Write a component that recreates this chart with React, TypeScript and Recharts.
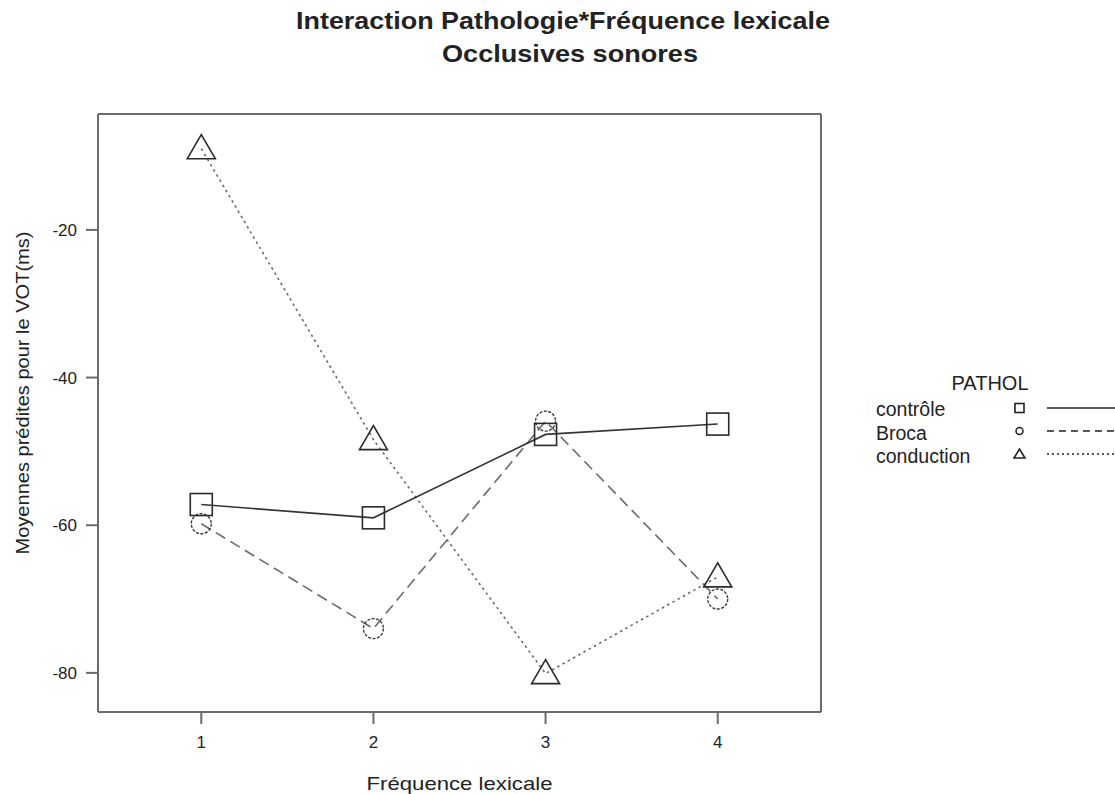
import React from 'react';
import { LineChart, Line, XAxis, YAxis } from 'recharts';

const frequences = [1, 2, 3, 4];
const controle = [-57.2, -59.0, -47.7, -46.3];
const broca = [-59.8, -74.0, -45.9, -70.0];
const conduction = [-9.0, -48.4, -80.1, -67.0];
const xTicks = [1, 2, 3, 4];
const yTicks = [-80, -60, -40, -20];
const titleLines = ['Interaction Pathologie*Fréquence lexicale', 'Occlusives sonores'];
const xTitle = 'Fréquence lexicale';
const yTitle = 'Moyennes prédites pour le VOT(ms)';
const legendTitle = 'PATHOL';
const seriesNames = ['contrôle', 'Broca', 'conduction'];

const data = frequences.map((f, i) => ({
  f,
  controle: controle[i],
  broca: broca[i],
  conduction: conduction[i],
}));

const FONT = '"Liberation Sans", Arial, Helvetica, sans-serif';
const FRAME = '#6b6b6b';
const TEXT = '#222';

const SquareDot = (p: any) => (
  <rect key={`sq${p.index}`} x={p.cx - 11} y={p.cy - 11} width={22} height={22}
    fill="none" stroke="#2a2a2a" strokeWidth={1.6} />
);
const CircleDot = (p: any) => (
  <circle key={`ci${p.index}`} cx={p.cx} cy={p.cy} r={10}
    fill="none" stroke="#3a3a3a" strokeWidth={1.4} strokeDasharray="3 1.5" />
);
const TriDot = (p: any) => (
  <polygon key={`tr${p.index}`}
    points={`${p.cx},${p.cy - 14} ${p.cx - 14},${p.cy + 10} ${p.cx + 14},${p.cy + 10}`}
    fill="none" stroke="#2a2a2a" strokeWidth={1.6} />
);

const YLabel = (props: any) => {
  const vb = props.viewBox || {};
  const x = (vb.x ?? 0) + 29;
  const y = 393;
  return (
    <text x={x} y={y} transform={`rotate(-90 ${x} ${y})`} textAnchor="middle"
      fontFamily={FONT} fontSize={19} fill={TEXT} textLength={323} lengthAdjust="spacingAndGlyphs">
      {yTitle}
    </text>
  );
};

const XLabel = (props: any) => {
  const vb = props.viewBox || {};
  const x = (vb.x ?? 0) + (vb.width ?? 0) / 2;
  const y = 790;
  return (
    <text x={x} y={y} textAnchor="middle" fontFamily={FONT} fontSize={19} fill={TEXT}
      textLength={186} lengthAdjust="spacingAndGlyphs">
      {xTitle}
    </text>
  );
};

export default function App() {
  const tickStyle = { fontFamily: FONT, fontSize: 17, fill: TEXT };
  return (
    <div style={{ position: 'absolute', left: 0, top: 0, width: 1115, height: 794, background: '#fff' }}>
      <LineChart width={1115} height={794} data={data}
        margin={{ top: 102, right: 282, bottom: 0, left: 0 }}>
        <XAxis xAxisId="b" dataKey="f" type="number" domain={[0.4, 4.6]} ticks={xTicks}
          allowDataOverflow height={82} orientation="bottom"
          axisLine={{ stroke: FRAME, strokeWidth: 2 }} tickLine={{ stroke: FRAME, strokeWidth: 2 }}
          tickSize={12} tickMargin={12} tick={tickStyle} label={<XLabel />} />
        <XAxis xAxisId="t" dataKey="f" type="number" domain={[0.4, 4.6]} ticks={xTicks}
          allowDataOverflow height={12} orientation="top"
          axisLine={{ stroke: FRAME, strokeWidth: 2 }} tickLine={{ stroke: FRAME, strokeWidth: 2 }}
          tickSize={12} tick={false} />
        <YAxis yAxisId="l" type="number" domain={[-85.3, -4.3]} ticks={yTicks} allowDataOverflow
          width={98} orientation="left"
          axisLine={{ stroke: FRAME, strokeWidth: 2 }} tickLine={{ stroke: FRAME, strokeWidth: 2 }}
          tickSize={12} tickMargin={9} tick={tickStyle} label={<YLabel />} />
        <YAxis yAxisId="r" type="number" domain={[-85.3, -4.3]} ticks={yTicks} allowDataOverflow
          width={12} orientation="right"
          axisLine={{ stroke: FRAME, strokeWidth: 2 }} tickLine={{ stroke: FRAME, strokeWidth: 2 }}
          tickSize={12} tick={false} />
        <Line xAxisId="b" yAxisId="l" dataKey="conduction" stroke="#6a6a6a" strokeWidth={1.6}
          strokeDasharray="2.5 3.5" dot={TriDot} activeDot={false} isAnimationActive={false} />
        <Line xAxisId="b" yAxisId="l" dataKey="broca" stroke="#6a6a6a" strokeWidth={1.6}
          strokeDasharray="11 6" dot={CircleDot} activeDot={false} isAnimationActive={false} />
        <Line xAxisId="b" yAxisId="l" dataKey="controle" stroke="#333" strokeWidth={1.6}
          dot={SquareDot} activeDot={false} isAnimationActive={false} />
      </LineChart>
      <svg width={1115} height={794} style={{ position: 'absolute', left: 0, top: 0, pointerEvents: 'none' }}>
        <text x={563} y={29} textAnchor="middle" fontFamily={FONT} fontWeight="bold" fontSize={24}
          fill={TEXT} textLength={534} lengthAdjust="spacingAndGlyphs">{titleLines[0]}</text>
        <text x={570} y={62} textAnchor="middle" fontFamily={FONT} fontWeight="bold" fontSize={24}
          fill={TEXT} textLength={256} lengthAdjust="spacingAndGlyphs">{titleLines[1]}</text>
        <text x={990} y={390} textAnchor="middle" fontFamily={FONT} fontSize={20} fill={TEXT}>{legendTitle}</text>
        {seriesNames.map((n, i) => {
          const y = 408 + i * 23;
          return (
            <g key={n}>
              <text x={876} y={y + 8 + i * 0.7} fontFamily={FONT} fontSize={19.5} fill={TEXT}>{n}</text>
              {i === 0 && <rect x={1015} y={y - 4.5} width={9} height={9} fill="none" stroke="#222" strokeWidth={1.6} />}
              {i === 1 && <circle cx={1019.5} cy={y} r={3.5} fill="none" stroke="#222" strokeWidth={1.5} />}
              {i === 2 && <polygon points={`1019.5,${y - 5} 1014,${y + 4} 1025,${y + 4}`} fill="none" stroke="#222" strokeWidth={1.6} />}
              <line x1={1047} x2={1115} y1={y} y2={y} stroke="#222" strokeWidth={1.6}
                strokeDasharray={i === 0 ? undefined : i === 1 ? '7 5' : '2 3'} />
            </g>
          );
        })}
      </svg>
    </div>
  );
}
